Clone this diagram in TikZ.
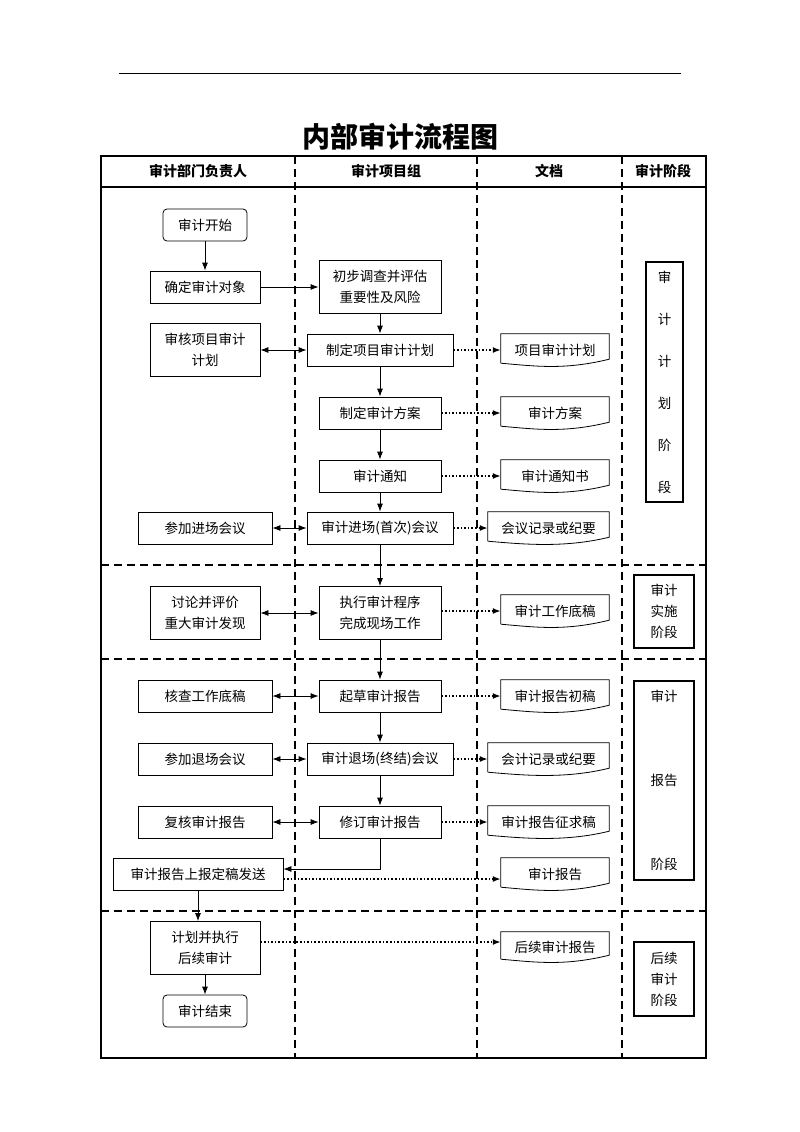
\documentclass[tikz,border=0pt]{standalone}
\usepackage{fontspec}
\setmainfont{Noto Sans CJK SC}
\usetikzlibrary{arrows.meta}
\newcommand{\boxfont}{\fontsize{13.5}{21}\selectfont}
\newcommand{\headfont}{\fontsize{14}{16}\selectfont\bfseries}
\newcommand{\titlefont}{\fontsize{28}{30}\selectfont\bfseries}

\begin{document}
\begin{tikzpicture}[x=1pt, y=-1pt,
    box/.style={draw, line width=0.8pt, minimum width=#1, minimum height=32pt, align=center, inner sep=2pt, font=\boxfont},
    box/.default=110pt,
    tallbox/.style={box=#1, minimum height=53pt},
    tallbox/.default=110pt,
    terminal/.style={box=84pt, rounded corners=4pt},
    doc/.style={minimum width=#1, minimum height=32pt, inner sep=2pt, align=center, font=\boxfont},
    doc/.default=108pt,
    stage/.style={draw, line width=2.2pt, align=center, inner sep=0pt},
    head/.style={font=\headfont},
    lane/.style={dash pattern=on 8pt off 5pt, line width=1.6pt},
    arrow/.style={-{Latex[length=8pt,width=6pt]}, line width=0.8pt},
    twoway/.style={{Latex[length=8pt,width=6pt]}-{Latex[length=8pt,width=6pt]}, line width=0.8pt},
    dotarrow/.style={-{Latex[length=8pt,width=6pt]}, line width=1.6pt, dotted}
]
    \useasboundingbox (0,0) rectangle (800,1132);

    % page rule and title
    \draw[line width=0.8pt] (119,73) -- (681,73);
    \node[font=\titlefont] (title) at (400,137) {内部审计流程图};

    % frame, header row, lanes
    \draw[line width=1.8pt] (101,156) rectangle (706,1058);
    \draw[line width=1.5pt] (101,187) -- (706,187);
    \foreach \x in {295,477,622}
        \draw[lane] (\x,156) -- (\x,1058);
    \foreach \y in {565,659,911}
        \draw[lane] (101,\y) -- (706,\y);

    \node[head] (hdept) at (198,171) {审计部门负责人};
    \node[head] (hteam) at (386,171) {审计项目组};
    \node[head] (hdocs) at (549,171) {文档};
    \node[head] (hstage) at (663,171) {审计阶段};

    % department head
    \node[terminal] (start) at (205,225) {审计开始};
    \node[box] (target) at (205,287) {确定审计对象};
    \node[tallbox] (review) at (205,350) {审核项目审计\\计划};
    \node[box=134pt] (entrymeet) at (205,528) {参加进场会议};
    \node[tallbox] (discuss) at (205,613) {讨论并评价\\重大审计发现};
    \node[box=134pt] (check) at (205,696) {核查工作底稿};
    \node[box=134pt] (exitmeet) at (205,759) {参加退场会议};
    \node[box=134pt] (recheck) at (205,822) {复核审计报告};
    \node[box=170pt] (submit) at (198,874) {审计报告上报定稿发送};
    \node[tallbox] (follow) at (205,948) {计划并执行\\后续审计};
    \node[terminal] (finish) at (205,1011) {审计结束};

    % audit team
    \node[tallbox=122pt] (survey) at (380,287) {初步调查并评估\\重要性及风险};
    \node[box=146pt] (plan) at (380,350) {制定项目审计计划};
    \node[box=122pt] (scheme) at (380,413) {制定审计方案};
    \node[box=122pt] (notice) at (380,476) {审计通知};
    \node[box=146pt] (entry) at (380,528) {审计进场(首次)会议};
    \node[tallbox=122pt] (execute) at (380,613) {执行审计程序\\完成现场工作};
    \node[box=122pt] (draft) at (380,696) {起草审计报告};
    \node[box=146pt] (exit) at (380,759) {审计退场(终结)会议};
    \node[box=122pt] (revise) at (380,822) {修订审计报告};

    % documents
    \node[doc] (plandoc) at (555,350) {项目审计计划};
    \node[doc] (schemedoc) at (555,413) {审计方案};
    \node[doc] (noticedoc) at (555,476) {审计通知书};
    \node[doc=121pt] (minutesdoc) at (548.5,528) {会议记录或纪要};
    \node[doc] (paperdoc) at (555,611) {审计工作底稿};
    \node[doc] (draftdoc) at (555,696) {审计报告初稿};
    \node[doc=121pt] (exitdoc) at (548.5,759) {会计记录或纪要};
    \node[doc=121pt] (consultdoc) at (548.5,822) {审计报告征求稿};
    \node[doc] (reportdoc) at (555,874) {审计报告};
    \node[doc, minimum height=30pt] (followdoc) at (555,947) {后续审计报告};
    \foreach \d in {plandoc,schemedoc,noticedoc,minutesdoc,paperdoc,draftdoc,exitdoc,consultdoc,reportdoc,followdoc}
        \draw[line width=0.8pt] ([yshift=3pt]\d.south west) -- (\d.north west) -- (\d.north east) -- ([yshift=7pt]\d.south east)
            .. controls ([xshift=-45pt,yshift=-4pt]\d.south east) and ([xshift=35pt]\d.south west) .. ([yshift=3pt]\d.south west);

    % stages
    \node[stage, minimum width=37pt, minimum height=240pt, font=\fontsize{13.5}{42}\selectfont] (stplan) at (664.5,382) {审\\计\\计\\划\\阶\\段};
    \node[stage, minimum width=60pt, minimum height=73pt, font=\fontsize{13.5}{21}\selectfont] (stdo) at (664,611.5) {审计\\实施\\阶段};
    \node[stage, minimum width=60pt, minimum height=199pt, font=\fontsize{13.5}{84}\selectfont] (streport) at (664,780.5) {审计\\报告\\阶段};
    \node[stage, minimum width=60pt, minimum height=74pt, font=\fontsize{13.5}{21}\selectfont] (stfollow) at (664,979) {后续\\审计\\阶段};

    % main flow
    \draw[arrow] (start) -- (target);
    \draw[arrow] (target) -- (survey);
    \draw[arrow] (survey) -- (plan);
    \draw[arrow] (plan) -- (scheme);
    \draw[arrow] (scheme) -- (notice);
    \draw[arrow] (notice) -- (entry);
    \draw[arrow] (entry) -- (execute);
    \draw[arrow] (execute) -- (draft);
    \draw[arrow] (draft) -- (exit);
    \draw[arrow] (exit) -- (revise);
    \draw[arrow] (revise.south) |- ([yshift=5pt]submit.east);
    \draw[arrow] (submit.south) -- (submit.south |- follow.north);
    \draw[arrow] (follow) -- (finish);

    % two-way exchanges
    \draw[twoway] (review) -- (plan);
    \draw[twoway] (entrymeet) -- (entry);
    \draw[twoway] (discuss) -- (execute);
    \draw[twoway] (check) -- (draft);
    \draw[twoway] (exitmeet) -- (exit);
    \draw[twoway] (recheck) -- (revise);

    % documents produced
    \draw[dotarrow] (plan) -- (plandoc);
    \draw[dotarrow] (scheme) -- (schemedoc);
    \draw[dotarrow] (notice) -- (noticedoc);
    \draw[dotarrow] (entry) -- (minutesdoc);
    \draw[dotarrow] (execute.east |- paperdoc.west) -- (paperdoc.west);
    \draw[dotarrow] (draft) -- (draftdoc);
    \draw[dotarrow] (exit) -- (exitdoc);
    \draw[dotarrow] (revise) -- (consultdoc);
    \draw[dotarrow] ([yshift=-5pt]submit.east) -- ([yshift=-5pt]reportdoc.west);
    \draw[dotarrow] ([yshift=6pt]follow.east) -- ([yshift=6pt]follow.east -| followdoc.west);
\end{tikzpicture}
\end{document}
